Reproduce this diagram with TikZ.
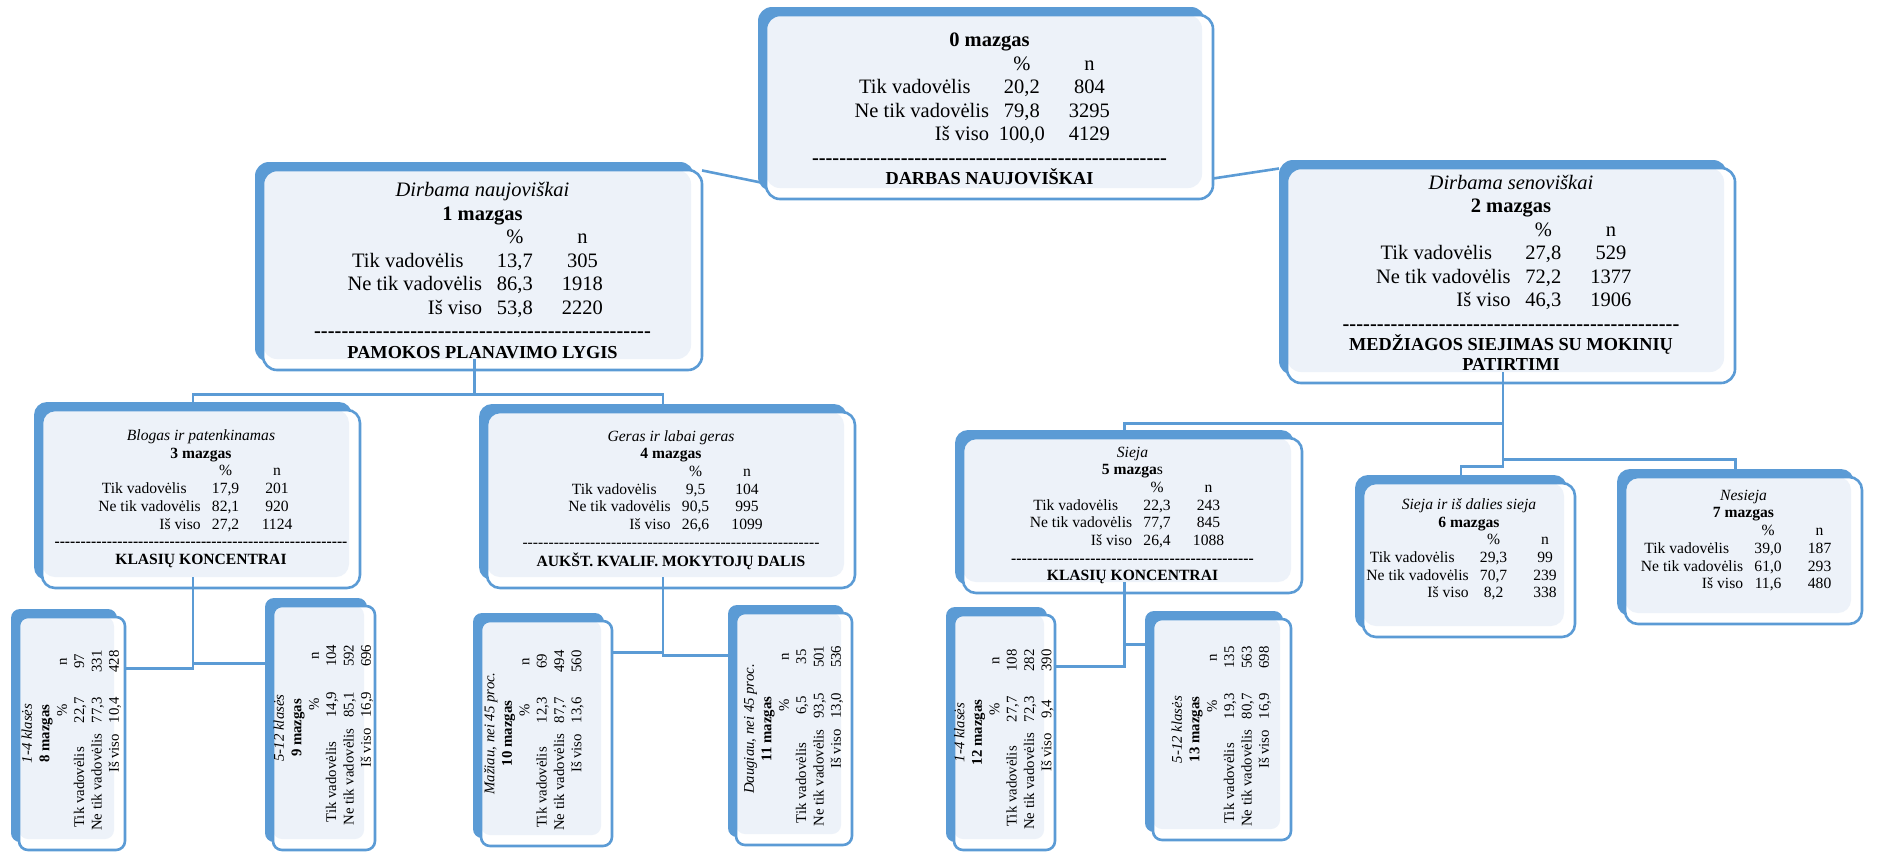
\documentclass[tikz,border=0pt]{standalone}
\usepackage{fontspec}
\setmainfont{Liberation Serif}
\usepackage{array}
\usepackage{graphicx}
\usetikzlibrary{shadows}
\definecolor{Melyna}{HTML}{5B9BD5}
\definecolor{Sviesi}{HTML}{EDF2F9}
\newcommand{\eil}[1]{\multicolumn{3}{c}{\makebox[0pt]{#1}}}
\newcommand{\lentele}[6]{%
   & \% & n\\
  Tik vadovėlis\kern.9em & #1 & #2\\
  Ne tik vadovėlis & #3 & #4\\
  Iš viso & #5 & #6}
\newcommand{\bruksniai}[1]{\hbox to #1{\xleaders\hbox{-}\hfill}}
\newcommand{\zyme}[1]{{\fontsize{18.3}{21}\selectfont\bfseries #1}}
\newenvironment{lent}{\begin{tabular}{@{}r@{}w{c}{3.2em}@{}w{c}{3.4em}@{}}}{\end{tabular}}
\tikzset{
  mazgas/.style={draw=Melyna, line width=2.6pt, fill=white, rounded corners=#1, inner sep=0pt,
    copy shadow={shadow xshift=-8pt, shadow yshift=8pt, fill=Melyna, draw=none},
    path picture={\fill[Sviesi, rounded corners=#1] (path picture bounding box.north west)
      rectangle ([xshift=-11pt,yshift=11pt]path picture bounding box.south east);}},
  mazgas/.default=14pt,
  jungtis/.style={draw=Melyna, line width=2.6pt, line cap=rect},
  didelis/.style={font=\fontsize{20.5}{23.5}\selectfont},
  vidutinis/.style={font=\fontsize{15.6}{17.7}\selectfont},
  mazas/.style={font=\fontsize{14.8}{17.4}\selectfont}
}

\begin{document}
\begin{tikzpicture}[x=1pt, y=-1pt]
  \useasboundingbox (0,0) rectangle (1885,852);

  \node[mazgas, didelis, minimum width=447pt, minimum height=184pt] (m0) at (989.5,107) {\begin{lent}
    \eil{\bfseries 0 mazgas}\\
    \lentele{20,2}{804}{79,8}{3295}{100,0}{4129}\\
    \eil{\bfseries\bruksniai{355pt}}\\[-3pt]
    \eil{\zyme{DARBAS NAUJOVIŠKAI}}\\[-8pt]
  \end{lent}};
  \node[mazgas, didelis, minimum width=439pt, minimum height=200pt] (m1) at (482.5,270) {\begin{lent}
    \eil{\itshape Dirbama naujoviškai}\\
    \eil{\bfseries 1 mazgas}\\
    \lentele{13,7}{305}{86,3}{1918}{53,8}{2220}\\
    \eil{\bfseries\bruksniai{337pt}}\\[-3pt]
    \eil{\zyme{PAMOKOS PLANAVIMO LYGIS}}\\[-6pt]
  \end{lent}};
  \node[mazgas, didelis, minimum width=448pt, minimum height=215pt] (m2) at (1511,275.5) {\begin{lent}
    \eil{\itshape Dirbama senoviškai}\\
    \eil{\bfseries 2 mazgas}\\
    \lentele{27,8}{529}{72,2}{1377}{46,3}{1906}\\
    \eil{\bfseries\bruksniai{337pt}}\\[-3pt]
    \eil{\zyme{MEDŽIAGOS SIEJIMAS SU MOKINIŲ}}\\[-3.5pt]
    \eil{\zyme{PATIRTIMI}}
  \end{lent}};

  \node[mazgas=13pt, vidutinis, minimum width=318pt, minimum height=178pt] (m3) at (201,499) {\begin{lent}
    \eil{\itshape Blogas ir patenkinamas}\\
    \eil{\bfseries 3 mazgas}\\
    \lentele{17,9}{201}{82,1}{920}{27,2}{1124}\\
    \eil{\bfseries\bruksniai{293pt}}\\
    \eil{\bfseries KLASIŲ KONCENTRAI}
  \end{lent}};
  \node[mazgas=13pt, vidutinis, minimum width=368pt, minimum height=176pt] (m4) at (671,500) {\begin{lent}
    \eil{\itshape Geras ir labai geras}\\
    \eil{\bfseries 4 mazgas}\\
    \lentele{9,5}{104}{90,5}{995}{26,6}{1099}\\
    \eil{\bruksniai{297pt}}\\
    \eil{\bfseries AUKŠT. KVALIF. MOKYTOJŲ DALIS}
  \end{lent}};
  \node[mazgas=13pt, vidutinis, minimum width=339pt, minimum height=155pt] (m5) at (1132.5,515.5) {\begin{lent}
    \eil{\itshape Sieja}\\
    \eil{\bfseries 5 mazga\mdseries s}\\
    \lentele{22,3}{243}{77,7}{845}{26,4}{1088}\\
    \eil{\bfseries\bruksniai{243pt}}\\
    \eil{\bfseries KLASIŲ KONCENTRAI}
  \end{lent}};
  \node[mazgas=13pt, vidutinis, minimum width=212pt, minimum height=154pt] (m6) at (1469,560) {\begin{lent}
    \eil{\itshape Sieja ir iš dalies sieja}\\
    \eil{\bfseries 6 mazgas}\\
    \lentele{29,3}{99}{70,7}{239}{8,2}{338}\\[20pt]
  \end{lent}};
  \node[mazgas=13pt, vidutinis, minimum width=237pt, minimum height=147pt] (m7) at (1743.5,550.5) {\begin{lent}
    \eil{\itshape Nesieja}\\
    \eil{\bfseries 7 mazgas}\\
    \lentele{39,0}{187}{61,0}{293}{11,6}{480}\\[19pt]
  \end{lent}};

  \node[mazgas=9pt, mazas, minimum width=106pt, minimum height=233pt] (m8) at (72,733.5) {\makebox[0pt]{\rotatebox{90}{\begin{lent}
    \eil{\itshape 1-4 klasės}\\
    \eil{\bfseries 8 mazgas}\\
    \lentele{22,7}{97}{77,3}{331}{10,4}{428}
  \end{lent}}}};
  \node[mazgas=9pt, mazas, minimum width=102pt, minimum height=244pt] (m9) at (324,728) {\makebox[0pt]{\rotatebox{90}{\begin{lent}
    \eil{\itshape 5-12 klasės}\\
    \eil{\bfseries 9 mazgas}\\
    \lentele{14,9}{104}{85,1}{592}{16,9}{696}
  \end{lent}}}};
  \node[mazgas=9pt, mazas, minimum width=131pt, minimum height=225pt] (m10) at (546.5,733.5) {\makebox[0pt]{\rotatebox{90}{\begin{lent}
    \eil{\itshape Mažiau, nei 45 proc.}\\
    \eil{\bfseries 10 mazgas}\\
    \lentele{12,3}{69}{87,7}{494}{13,6}{560}\\[24pt]
  \end{lent}}}};
  \node[mazgas=9pt, mazas, minimum width=116pt, minimum height=232pt] (m11) at (794,729) {\makebox[0pt]{\rotatebox{90}{\begin{lent}
    \eil{\itshape Daugiau, nei 45 proc.}\\
    \eil{\bfseries 11 mazgas}\\
    \lentele{6,5}{35}{93,5}{501}{13,0}{536}
  \end{lent}}}};
  \node[mazgas=9pt, mazas, minimum width=101pt, minimum height=235pt] (m12) at (1004.5,732.5) {\makebox[0pt]{\rotatebox{90}{\begin{lent}
    \eil{\itshape 1-4 klasės}\\
    \eil{\bfseries 12 mazgas}\\
    \lentele{27,7}{108}{72,3}{282}{9,4}{390}
  \end{lent}}}};
  \node[mazgas=9pt, mazas, minimum width=138pt, minimum height=221pt] (m13) at (1222,729.5) {\makebox[0pt]{\rotatebox{90}{\begin{lent}
    \eil{\itshape 5-12 klasės}\\
    \eil{\bfseries 13 mazgas}\\
    \lentele{19,3}{135}{80,7}{563}{16,9}{698}
  \end{lent}}}};

  \draw[jungtis] ([yshift=-2pt]m1.north east) -- ([yshift=17pt]m0.south west);
  \draw[jungtis] ([yshift=22pt]m0.south east) -- ([xshift=-8pt,yshift=-2pt]m2.north west);

  \draw[jungtis] ([xshift=-8pt,yshift=11pt]m1.south) -- ++(0,34) coordinate (k1);
  \draw[jungtis] ([xshift=-8pt]m3.north) |- (k1) -| ([xshift=-8pt]m4.north);

  \draw[jungtis] ([xshift=-8pt,yshift=11pt]m2.south) -- ++(0,50) coordinate (k5) -- ++(0,36) coordinate (k7) -- ++(0,7) coordinate (k6);
  \draw[jungtis] (k5) -| ([xshift=-8pt]m5.north);
  \draw[jungtis] (k6) -| ([xshift=-8pt]m6.north);
  \draw[jungtis] (k7) -| ([xshift=-8pt]m7.north);

  \draw[jungtis] ([xshift=-8pt,yshift=11pt]m3.south) -- ++(0,85) coordinate (k9) -- ++(0,5) coordinate (k8);
  \draw[jungtis] (k8) -- (k8 -| m8.east);
  \draw[jungtis] (k9) -- (k9 -| m9.west);

  \draw[jungtis] ([xshift=-8pt,yshift=11pt]m4.south) -- ++(0,74) coordinate (k10) -- ++(0,3) coordinate (k11);
  \draw[jungtis] (k10) -- (k10 -| m10.east);
  \draw[jungtis] (k11) -- (k11 -| m11.west);

  \draw[jungtis] ([xshift=-8pt,yshift=11pt]m5.south) -- ++(0,61) coordinate (k13) -- ++(0,22) coordinate (k12);
  \draw[jungtis] (k12) -- (k12 -| m12.east);
  \draw[jungtis] (k13) -- (k13 -| m13.west);
\end{tikzpicture}
\end{document}
